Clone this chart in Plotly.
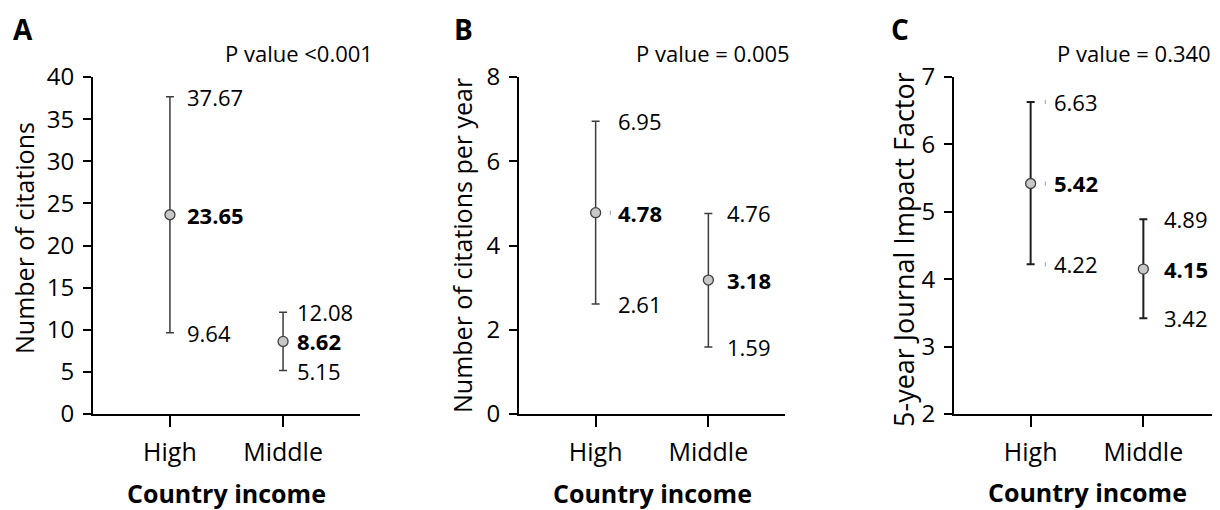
import plotly.graph_objects as go

categories = ["High", "Middle"]

cit_mean = [23.65, 8.62]
cit_lo = [9.64, 5.15]
cit_hi = [37.67, 12.08]

cpy_mean = [4.78, 3.18]
cpy_lo = [2.61, 1.59]
cpy_hi = [6.95, 4.76]

jif_mean = [5.42, 4.15]
jif_lo = [4.22, 3.42]
jif_hi = [6.63, 4.89]

panel_letters = ["A", "B", "C"]
p_values = ["P value <0.001", "P value = 0.005", "P value = 0.340"]
y_titles = ["Number of citations", "Number of citations per year", "5-year Journal Impact Factor"]
x_title = "Country income"

FONT = "Open Sans"
OFF = 8  # page body offset in the browser
W, H = 1220 - OFF, 510 - OFF

def px(x):
    return (x - OFF) / W

def py(y):
    return 1 - (y - OFF) / H

panels = [
    dict(mean=cit_mean, lo=cit_lo, hi=cit_hi, xdom=(93, 360), yr=(0, 40), dt=5,
         shifts=(15, 12), ethick=1.5, ecol="#3c3c3c",
         ytx=24, yty=238, ytsize=25, xty=493, dots=[]),
    dict(mean=cpy_mean, lo=cpy_lo, hi=cpy_hi, xdom=(519, 785), yr=(0, 8), dt=2,
         shifts=(20, 17), ethick=1.5, ecol="#3c3c3c",
         ytx=462, yty=246, ytsize=25, xty=493, dots=["mean"]),
    dict(mean=jif_mean, lo=jif_lo, hi=jif_hi, xdom=(954, 1220), yr=(2, 7), dt=1,
         shifts=(21, 19), ethick=2, ecol="#1e1e1e",
         ytx=903, yty=250, ytsize=27, xty=492, dots=["hi", "mean", "lo"]),
]

fig = go.Figure()
xs = [0, 1]
ydom = (py(414), py(77))

annotations = []
for i, p in enumerate(panels):
    n = "" if i == 0 else str(i + 1)
    xa, ya = "x" + n, "y" + n
    plus = [h - m for h, m in zip(p["hi"], p["mean"])]
    minus = [m - l for m, l in zip(p["mean"], p["lo"])]
    fig.add_trace(go.Scatter(
        x=xs, y=p["mean"], mode="markers", xaxis=xa, yaxis=ya, showlegend=False,
        marker=dict(size=10, color="#c8c8c8", line=dict(width=1.3, color="#404040")),
        error_y=dict(type="data", symmetric=False, array=plus, arrayminus=minus,
                     width=4, thickness=p["ethick"], color=p["ecol"]),
    ))
    for j in range(2):
        for val, bold in ((p["hi"][j], False), (p["mean"][j], True), (p["lo"][j], False)):
            txt = f"<b>{val:.2f}</b>" if bold else f"{val:.2f}"
            annotations.append(dict(
                x=xs[j], y=val, xref=xa, yref=ya, text=txt, showarrow=False,
                xanchor="left", yanchor="middle", xshift=p["shifts"][j],
                font=dict(family=FONT, size=22, color="black")))
    if p["dots"]:
        dy = [p[k][0] for k in p["dots"]]
        fig.add_trace(go.Scatter(
            x=[0.13] * len(dy), y=dy,
            mode="markers", xaxis=xa, yaxis=ya, showlegend=False, hoverinfo="skip",
            marker=dict(symbol="line-ns", size=3, line=dict(width=1, color="#9a9a9a"))))

    dom = (px(p["xdom"][0]), min(px(p["xdom"][1]), 1.0))
    fig.update_layout(**{
        ("xaxis" + n): dict(
            domain=dom, anchor=ya, range=[-0.68, 1.68], tickvals=xs, ticktext=categories,
            showline=True, linecolor="black", linewidth=2, ticks="outside", ticklen=11,
            tickwidth=1.5, tickcolor="black", ticklabelstandoff=4, automargin=False,
            tickfont=dict(family=FONT, size=25, color="black"), showgrid=False, zeroline=False),
        ("yaxis" + n): dict(
            domain=ydom, anchor=xa, range=list(p["yr"]), dtick=p["dt"], tick0=0,
            showline=True, linecolor="black", linewidth=2, ticks="outside", ticklen=8,
            tickwidth=1.5, tickcolor="black", ticklabelstandoff=4, automargin=False,
            tickfont=dict(family=FONT, size=24, color="black"), showgrid=False, zeroline=False),
    })
    annotations.append(dict(x=0.5, y=py(p["xty"]), xref=xa + " domain", yref="paper",
                            text=f"<b>{x_title}</b>", showarrow=False,
                            xanchor="center", yanchor="middle",
                            font=dict(family=FONT, size=25, color="black")))
    annotations.append(dict(x=px(p["ytx"]), y=py(p["yty"]), xref="paper", yref="paper",
                            text=y_titles[i], showarrow=False, textangle=-90,
                            xanchor="center", yanchor="middle",
                            font=dict(family=FONT, size=p["ytsize"], color="black")))

letter_x = [3, 444, 881]
pval_right = [367, 784, 1205]
for i in range(3):
    annotations.append(dict(x=letter_x[i] / W, y=1 - 21 / H, xref="paper", yref="paper",
                            text=f"<b>{panel_letters[i]}</b>", showarrow=False,
                            xanchor="left", yanchor="middle",
                            font=dict(family=FONT, size=28, color="black")))
    annotations.append(dict(x=pval_right[i] / W, y=1 - 45 / H, xref="paper", yref="paper",
                            text=p_values[i], showarrow=False, xanchor="right", yanchor="middle",
                            font=dict(family=FONT, size=22, color="black")))

fig.update_layout(width=W, height=H, margin=dict(l=0, r=0, t=0, b=0),
                  paper_bgcolor="white", plot_bgcolor="white", annotations=annotations)
fig.write_html("out.html")
